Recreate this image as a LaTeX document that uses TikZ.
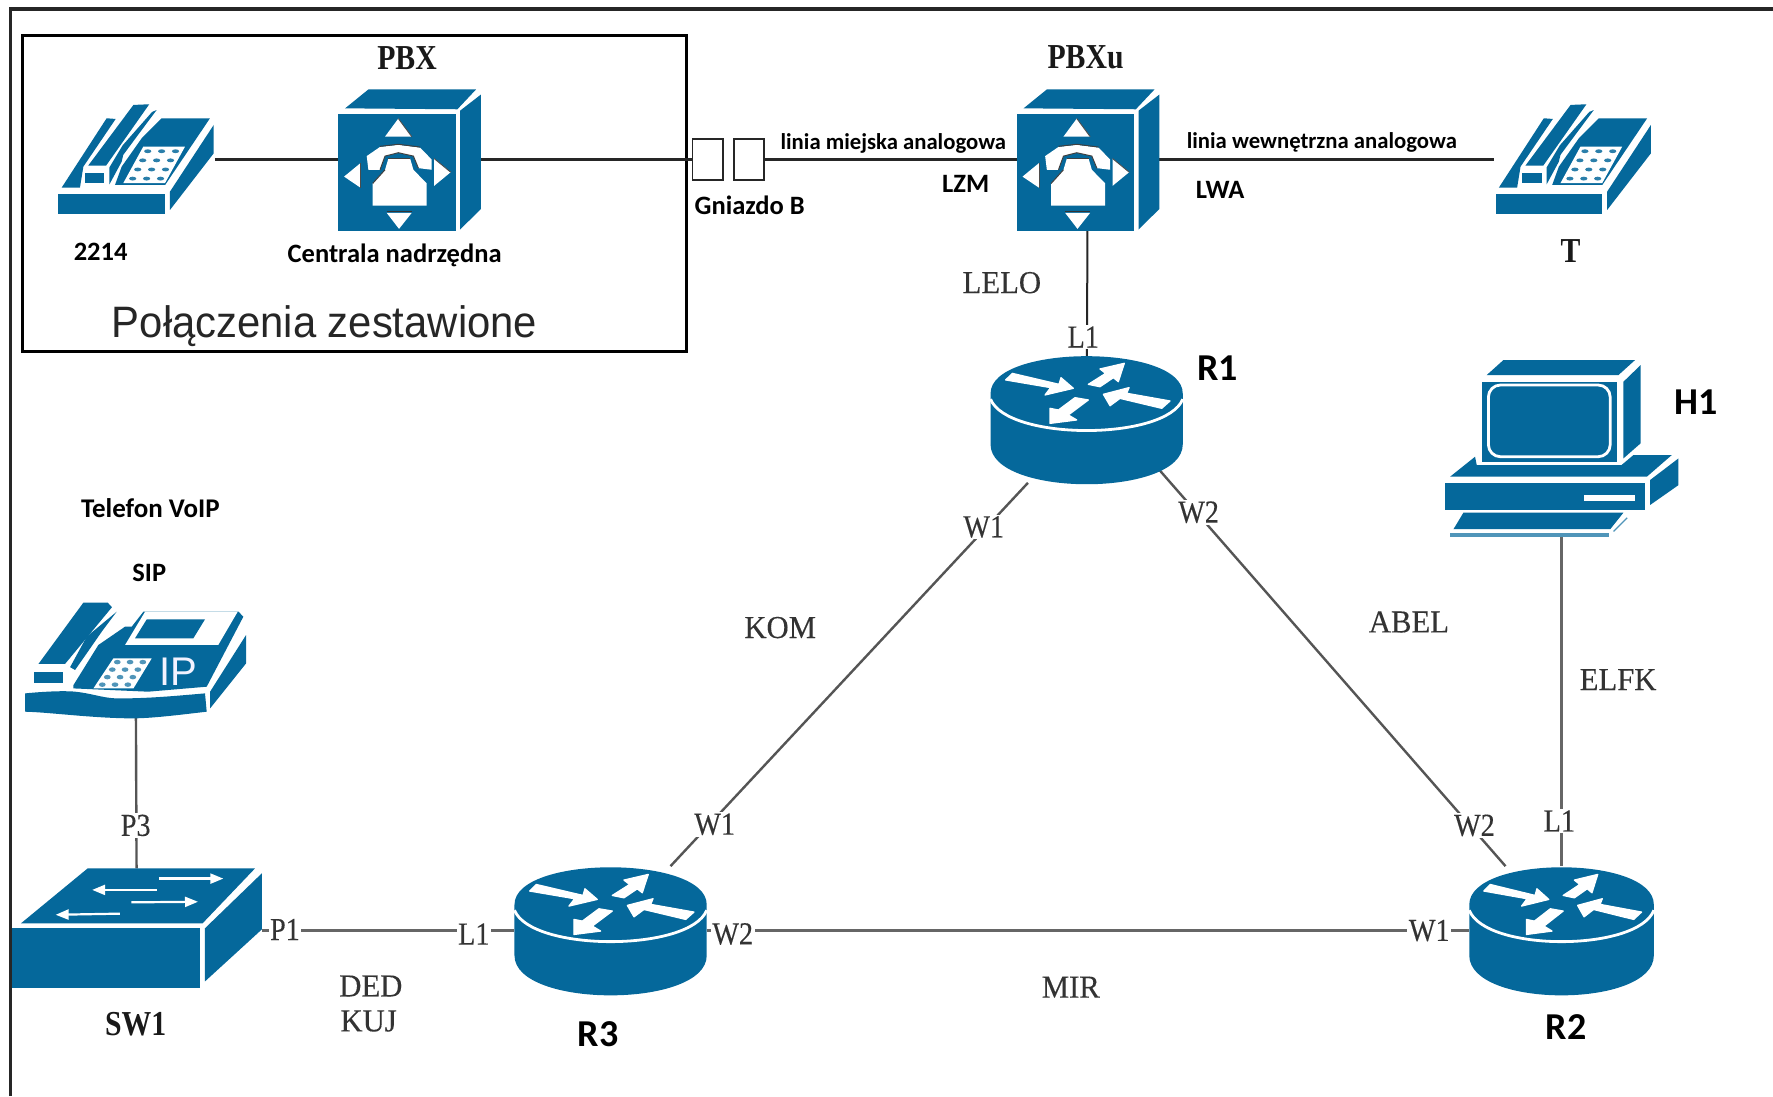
\documentclass[tikz,border=0pt]{standalone}
\usepackage{fontspec}
\setmainfont{Liberation Serif}
\newfontfamily\calfont{Carlito}
\newfontfamily\arialfont[FakeStretch=.95]{Liberation Sans}
\newfontfamily\iconfont{Liberation Sans}
\newfontfamily\serifn[FakeStretch=.88,FakeBold=0.25]{Liberation Serif}
\newfontfamily\serifw[FakeStretch=.96,FakeBold=0.25]{Liberation Serif}
\newfontfamily\serifb[FakeStretch=.85]{Liberation Serif Bold}
\usetikzlibrary{arrows.meta,calc}
\definecolor{ciscoblue}{HTML}{05689B}
\definecolor{lineG}{HTML}{555555}
\tikzset{
  ic/.style={fill=ciscoblue,draw=none},
  wh/.style={fill=white,draw=none},
  wa/.style={fill=white,draw=white,line width=1.3pt,line join=round},
  dev/.style n args={2}{inner sep=0pt,outer sep=0pt,minimum width=#1*1.1307pt,minimum height=#2*1.1307pt},
  cb/.style={font=\calfont\bfseries\fontsize{#1}{#1}\selectfont,inner sep=0pt},
  sb/.style={font=\serifb\fontsize{#1}{#1}\selectfont,inner sep=0pt,text=black!90},
  sr/.style={font=\serifn\fontsize{#1}{#1}\selectfont,inner sep=1.5pt,text=black!80},
  srw/.style={font=\serifw\fontsize{#1}{#1}\selectfont,inner sep=1.5pt,text=black!80},
  portlab/.style={sr=32,fill=white},
  wdark/.style={draw=black!85,line width=2.6pt},
  wgray/.style={draw=lineG,line width=2.4pt},
  wthick/.style={draw=black!60,line width=3.2pt},
  swarrow/.style={draw=white,line width=2.2pt,-{Triangle[length=13pt,width=10pt]}},
  routericon/.pic={
    \fill[ic] (-85,-23) -- (-85,22) .. controls (-85,69) and (85,69) .. (85,22) -- (85,-23)
       .. controls (85,-67) and (-85,-67) .. (-85,-23) -- cycle;
    \draw[white,line width=2.8pt] (-85,-18) .. controls (-70,19) and (70,19) .. (85,-18);
    \filldraw[wa] (-71.6,-35) -- (-65.7,-40.8) -- (-24.4,-31.1) -- (-22.7,-37) -- (-11.8,-27.6) -- (-36.8,-21.7) -- (-31.8,-28.2) -- cycle;
    \filldraw[wa] (1.5,-31.1) -- (16.8,-40.8) -- (11.8,-44.7) -- (33.3,-49.7) -- (28,-33.5) -- (23.6,-37) -- (11.8,-29) -- cycle;
    \filldraw[wa] (14.8,-22.3) -- (37.5,-28.2) -- (35.4,-23.2) -- (73.7,-16.4) -- (66.4,-9.9) -- (29.5,-18.7) -- (20.7,-12.2) -- cycle;
    \filldraw[wa] (-32.4,3.4) -- (-32.4,-9.9) -- (-25,-8.4) -- (-10.3,-19.3) -- (1.5,-17.3) -- (-16.2,-4) -- (-8.8,0.4) -- cycle;
  },
  pbxicon/.pic={
    \begin{scope}[shift={(0,22)}]
    \fill[ic] (6.2,-5.6) -- (26.8,-21.9) -- (122,-21.9) -- (105.5,-4.8) -- cycle;
    \fill[ic] (107.9,-3.6) -- (126.2,-17.4) -- (126.2,81.3) -- (107.9,99) -- cycle;
    \fill[ic] (0.3,-0.6) rectangle (104.3,100.5);
    \fill[wh] (53.3,3.2) -- (41.5,18.8) -- (65.1,18.8) -- cycle;
    \draw[black!70,line width=.9pt] (53.3,3.2) -- (65.1,18.8);
    \fill[wh] (43,84.6) -- (65.1,84.6) -- (53.9,98.4) -- cycle;
    \draw[black!80,line width=1.2pt] (43,83.6) -- (65.1,83.6);
    \fill[wh] (5.3,53.3) -- (20,41.5) -- (20,63) -- cycle;
    \draw[black!70,line width=.9pt] (20,41.5) -- (20,63);
    \fill[wh] (99.6,49.5) -- (84.9,37.7) -- (84.9,61.3) -- cycle;
    \draw[black!70,line width=.9pt] (84.9,37.7) -- (99.6,49.5);
    \fill[wh] (26.8,47.4) -- (25.3,35.6) -- (37.1,27.7) -- (53.3,25.9) -- (72.5,28.3) -- (82.8,38.6) -- (82.8,47.4) -- (71,46) -- (66.6,35.6) -- (53.3,32.7) -- (41.5,35.6) -- (37.1,47.4) -- cycle;
    \draw[black!75,line width=1pt] (37.1,27.2) -- (53.3,25.4) -- (72.5,27.8);
    \draw[black!75,line width=1pt] (37.1,47.4) -- (41.5,35.6) -- (53.3,32.7) -- (66.6,35.6) -- (71,46);
    \fill[wh] (44.5,37.7) -- (63.7,37.7) -- (66.6,47.4) -- (78.4,59.2) -- (78.4,78.4) -- (30.6,78.4) -- (30.6,59.2) -- (41.5,47.4) -- cycle;
    \draw[black!75,line width=1pt] (44.5,37.7) -- (63.7,37.7);
    \draw[black!75,line width=1pt] (41.5,47.4) -- (30.6,59.2);
    \end{scope}
  },
  phoneicon/.pic={
    \fill[ic] (1.6,80.9) rectangle (96,98.5);
    \fill[ic] (100.3,94.7) -- (100.3,78.5) -- (139,19.5) -- (139,44.6) -- cycle;
    \fill[ic] (93,13.6) -- (135.7,13.6) -- (96,72.6) -- (51.7,72.6) -- (57.6,56.4) -- (75.3,31.3) -- cycle;
    \fill[ic] (4.5,75) -- (44.3,13.6) -- (52.3,14.2) -- (23.7,56.4) -- (20.7,75) -- cycle;
    \fill[ic] (28,55.5) -- (68,1.8) -- (82,1.2) -- (43.8,55.5) -- cycle;
    \fill[ic] (46.8,57) -- (58.5,37.5) -- (84.5,8) -- (88.5,6.3) -- (73.8,26) -- (59,46) -- (57.6,52) -- (46.8,72) -- cycle;
    \filldraw[fill=ciscoblue,draw=white,line width=1pt] (25,61.4) rectangle (42.8,71);
    \fill[wh] (76.7,38.7) -- (113.6,38.7) -- (95.9,71) -- (59,71) -- cycle;
    \foreach \r in {0,...,3}{\foreach \c in {0,1,2}{
      \pgfmathsetmacro{\px}{76.7+36.9*(\c+.5)/3-17.7*(\r+.5)/4}
      \pgfmathsetmacro{\py}{38.7+32.3*(\r+.5)/4}
      \fill[ciscoblue!85] (\px,\py) ellipse[x radius=3.2,y radius=1.7];
    }}
  },
  ipphoneicon/.pic={
    \fill[ic] (45,75.8) -- (67,40.4) -- (90.6,24.2) -- (96.5,24.2) -- (106.8,11) -- (191,11) -- (195.2,15.4) -- (162.8,77.3) -- (111,81.7) -- (45,78.8) -- cycle;
    \fill[ic] (2.2,83.2) .. controls (25,81) and (40,81) .. (46.4,81.7) .. controls (60,83) and (70,87) .. (81.7,87.6) .. controls (110,88) and (140,85) .. (161.3,83.2) -- (162.8,99.4) .. controls (140,102) and (115,105.3) .. (96.5,105.3) .. controls (60,105) and (25,100) .. (2.2,99.4) -- cycle;
    \fill[ic] (165.8,96.5) -- (165.8,81.7) -- (197.6,31.6) -- (197.6,56.7) -- cycle;
    \fill[ic] (14,57.2) -- (53.7,3) -- (75.3,3) -- (79,7) -- (37.5,57.2) -- cycle;
    \fill[ic] (42,60) -- (56.7,33) -- (83.2,11) -- (70,28.6) -- (56.7,47.8) -- (46.4,62.5) -- cycle;
    \fill[ic] (10.4,64) rectangle (36,73.8);
    \fill[wh] (108.3,11) -- (190.2,11) -- (173,40.4) -- (90.6,40.4) -- cycle;
    \fill[ic] (109.8,17.7) -- (161.3,17.7) -- (151,34.5) -- (99.4,34.5) -- cycle;
    \fill[wh] (80.3,52.2) -- (114.2,52.2) -- (98,78.8) -- (62.6,78.8) -- cycle;
    \foreach \r in {0,...,3}{\foreach \c in {0,1,2}{
      \pgfmathsetmacro{\px}{80.3+33.9*(\c+.5)/3-17.7*(\r+.5)/4}
      \pgfmathsetmacro{\py}{52.2+26.6*(\r+.5)/4}
      \fill[ciscoblue!70] (\px,\py) ellipse[x radius=3,y radius=2];
    }}
    \node[font=\iconfont\fontsize{40}{40}\selectfont,text=white!95!blue,inner sep=0pt,anchor=base] (iptext) at (137.7,76.5) {IP};
  },
  switchicon/.pic={
    \fill[ic] (0,53) rectangle (166.6,106);
    \fill[ic] (8,48.6) -- (67,0) -- (215,0) -- (168.6,48.6) -- cycle;
    \fill[ic] (170.7,53) -- (221,4.4) -- (221,54) -- (170.7,100) -- cycle;
    \draw[swarrow] (130,9) -- (187,9);
    \draw[swarrow] (128,19) -- (71,19);
    \draw[swarrow] (105.7,30) -- (164.6,29.5);
    \draw[swarrow] (95.6,40) -- (38.7,41);
  },
  pcicon/.pic={
    \fill[ic] (37.8,13.7) -- (52.6,0.4) -- (169,0.4) -- (154.3,13.7) -- cycle;
    \fill[ic] (158.7,19.6) -- (174,4.8) -- (174,74) -- (158.7,87.4) -- cycle;
    \fill[ic] (33.4,19.6) rectangle (152.8,90.3);
    \draw[white,line width=2.8pt,rounded corners=12pt] (39.3,22.5) rectangle (147,85.9);
    \fill[ic] (5.4,103.6) -- (27.5,85.9) -- (29,93.3) -- (157,93.3) -- (167.6,84.4) -- (201.5,84.4) -- (179.4,103.6) -- cycle;
    \fill[ic] (1,108.9) rectangle (177.9,133);
    \fill[wh] (124,119.8) rectangle (169,124.8);
    \fill[ic] (182.3,106.5) -- (207.4,87.4) -- (207.4,111) -- (182.3,128.6) -- cycle;
    \fill[ic] (17.2,135.4) -- (158.7,135.4) -- (147,150) -- (8.4,150) -- cycle;
    \fill[ciscoblue!70] (5.4,153.7) rectangle (145.5,156.6);
    \draw[ciscoblue!70,line width=1.2pt] (150,152) -- (162,140);
  },
}
\begin{document}
\begin{tikzpicture}[x=1.1307pt,y=-1.1307pt]
\useasboundingbox (0,0) rectangle (1568,969.3);
\fill[white] (0,0) rectangle (1568,969.3);
% device placeholders
\node[dev={140}{100}] (ph1) at (120,141) {};
\node[dev={126}{126}] (pbx) at (362,141) {};
\node[dev={126}{126}] (pbxu) at (962,141) {};
\node[dev={140}{100}] (tel) at (1391,141) {};
\node[dev={170}{112}] (r1) at (961,371) {};
\node[dev={170}{114}] (r3) at (540,823) {};
\node[dev={163}{114}] (r2) at (1381,823) {};
\node[dev={208}{157}] (h1) at (1381,396.5) {};
\node[dev={200}{104}] (ip) at (120,582) {};
\node[dev={221}{110}] (sw) at (121,823) {};
% frames
\draw[black!85,line width=3.2pt] (9,969.3) -- (9,8) -- (1568,8);
\node[draw=black,line width=3pt,inner sep=0pt,minimum width=587*1.1307pt,minimum height=280*1.1307pt] (box) at (313.5,171) {};
% sockets and connectors
\coordinate (gAc) at (626,141);
\coordinate (gBc) at (662.3,141);
\draw[wdark] (ph1) -- (pbx);
\draw[wdark] (pbx) -- (gAc);
\draw[wdark] (gBc) -- (pbxu);
\draw[wdark] (pbxu) -- (tel);
\draw[wdark,line width=2pt] (pbxu) -- (r1);
\draw[wgray] (r1) -- (r3);
\draw[wgray] ($(r1)+(0,-29)$) -- (r2);
\draw[wthick] (r3) -- (r2);
\draw[wthick] (h1) -- (r2);
\draw[wthick] (sw) -- (r3);
\draw[wgray] (ip) -- (sw);
\node[draw=black!85,line width=1.8pt,fill=white,dev={27}{36}] (gA) at (gAc) {};
\node[draw=black!85,line width=1.8pt,fill=white,dev={27}{36}] (gB) at (gBc) {};
% icons
\pic at (ph1.north west) {phoneicon};
\pic at (tel.north west) {phoneicon};
\pic[yscale=1.025] at ($(pbx.north west)+(0,1)$) {pbxicon};
\pic[yscale=1.025] at ($(pbxu.north west)+(0,1)$) {pbxicon};
\pic at (r1) {routericon};
\pic at (r3) {routericon};
\pic[xscale=.96] at (r2) {routericon};
\pic at (h1.north west) {pcicon};
\pic at (ip.north west) {ipphoneicon};
\pic at (sw.north west) {switchicon};
% labels
\node[sb=35] (l01) at (360,51) {PBX};
\node[sb=35] (l02) at (960,51) {PBXu};
\node[sb=35] (l03) at (1389,222) {T};
\node[sb=35] (l04) at (120,906) {SW1};
\node[cb=26.5] (l05) at (89,223) {2214};
\node[cb=26.5] (l06) at (349,226) {Centrala nadrzędna};
\node[cb=26.5] (l07) at (663,182) {Gniazdo B};
\node[cb=22.7,fill=white] (l08) at (790,127) {linia miejska analogowa};
\node[cb=26.5] (l09) at (854,163) {LZM};
\node[cb=26.5] (l10) at (1079,168) {LWA};
\node[cb=22.7] (l11) at (1169,126) {linia wewnętrzna analogowa};
\node[cb=38] (l12) at (1077,326) {R1};
\node[cb=38] (l13) at (1500,356) {H1};
\node[cb=27] (l14) at (133,449) {Telefon VoIP};
\node[cb=26.5] (l15) at (132,507) {SIP};
\node[cb=38] (l16) at (529,915) {R3};
\node[cb=38] (l17) at (1385,908) {R2};
\node[font=\arialfont\fontsize{44}{44}\selectfont,text=black!85,inner sep=0pt] (l18) at (287,288) {Połączenia zestawione};
\node[srw=32] (l19) at (886,250) {LELO};
\node[portlab] (l20) at (958,298) {L1};
\node[portlab] (l21) at (870,466) {W1};
\node[portlab] (l22) at (1060,453) {W2};
\node[portlab] (l23) at (632,729) {W1};
\node[portlab] (l24) at (1304,730) {W2};
\node[portlab] (l25) at (1379,726) {L1};
\node[portlab] (l26) at (120,730) {P3};
\node[portlab] (l27) at (252,822) {P1};
\node[portlab] (l28) at (419,826) {L1};
\node[portlab] (l29) at (648,826) {W2};
\node[portlab] (l30) at (1264,823) {W1};
\node[srw=32] (l31) at (690,555) {KOM};
\node[srw=32] (l32) at (1246,550) {ABEL};
\node[srw=32] (l33) at (1431,601) {ELFK};
\node[srw=32] (l34) at (328,872) {DED};
\node[srw=32] (l35) at (326,903) {KUJ};
\node[srw=32] (l36) at (947,873) {MIR};
\end{tikzpicture}
\end{document}
